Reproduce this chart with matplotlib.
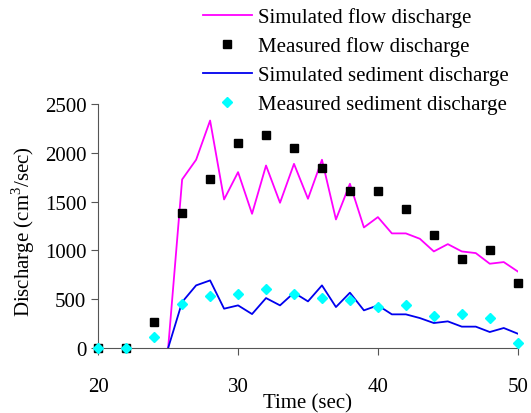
import matplotlib.pyplot as plt

plt.rcParams['font.family'] = ['Liberation Serif', 'DejaVu Serif']
plt.rcParams['mathtext.fontset'] = 'custom'
plt.rcParams['mathtext.rm'] = 'Liberation Serif'

# simulated series (every second)
t_sim = [25, 26, 27, 28, 29, 30, 31, 32, 33, 34, 35, 36, 37, 38, 39, 40,
         41, 42, 43, 44, 45, 46, 47, 48, 49, 50]
flow_sim = [0, 1728, 1930, 2332, 1523, 1803, 1376, 1871, 1489, 1888, 1530, 1930,
            1318, 1684, 1236, 1342, 1175, 1175, 1120, 990, 1065, 990, 973, 864, 881, 785]
sed_sim = [0, 471, 642, 693, 403, 437, 348, 512, 437, 567, 478, 642,
           420, 567, 386, 437, 345, 345, 307, 256, 273, 219, 219, 164, 205, 147]

# measured series (every two seconds)
t_meas = [20, 22, 24, 26, 28, 30, 32, 34, 36, 38, 40, 42, 44, 46, 48, 50]
flow_meas = [0, 0, 266, 1387, 1735, 2104, 2179, 2049, 1844, 1605, 1605, 1421,
             1161, 908, 1001, 669]
sed_meas = [0, 0, 109, 454, 533, 550, 608, 550, 512, 495, 420, 437,
            328, 345, 311, 55]

fig = plt.figure(figsize=(5.31, 4.14), dpi=100)
ax = fig.add_axes([0.185, 0.157, 0.79, 0.589])

ax.plot(t_sim, flow_sim, color='#ff00ff', lw=1.3, label='Simulated flow discharge')
ax.plot(t_meas, flow_meas, ls='none', marker='s', ms=5.5, color='black',
        label='Measured flow discharge', clip_on=False, zorder=3)
ax.plot(t_sim, sed_sim, color='#0000ee', lw=1.3, label='Simulated sediment discharge')
ax.plot(t_meas, sed_meas, ls='none', marker='D', ms=5, color='#00ffff',
        label='Measured sediment discharge', clip_on=False, zorder=4)

ax.set_xlim(20, 50)
ax.set_ylim(0, 2500)
ax.set_xticks([20, 30, 40, 50])
ax.set_yticks([0, 500, 1000, 1500, 2000, 2500])
for s in ['top', 'right']:
    ax.spines[s].set_visible(False)
for s in ['left', 'bottom']:
    ax.spines[s].set_color('#555555')
ax.tick_params(colors='#555555', labelcolor='black', labelsize=15, length=5,
               direction='out')
ax.tick_params(axis='x', pad=16)
ax.set_xlabel('Time (sec)', fontsize=15)
ax.xaxis.set_label_coords(0.5, -0.185)
ax.set_ylabel('Discharge (cm$^3$/sec)', fontsize=15)
ax.yaxis.set_label_coords(-0.145, 0.48)

fig.legend(loc='upper left', bbox_to_anchor=(0.366, 1.0), frameon=False,
           fontsize=15, handlelength=2.35, handletextpad=0.3,
           labelspacing=0.44, borderaxespad=0)

fig.savefig('out.png', dpi=100)
